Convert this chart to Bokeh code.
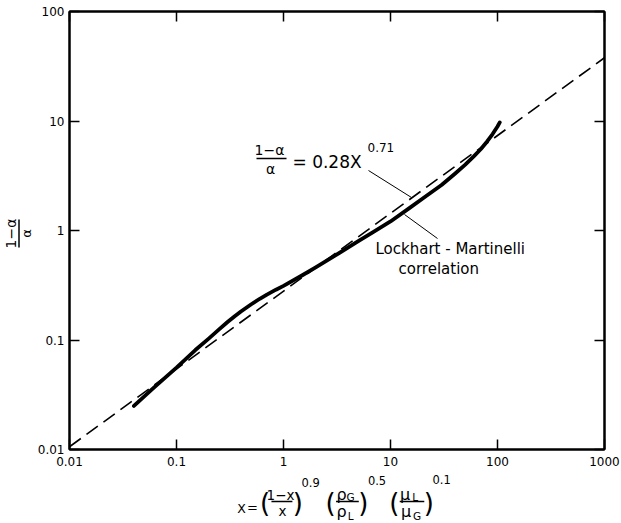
import math
from bokeh.plotting import figure
from bokeh.layouts import row, column
from bokeh.models import FixedTicker, CustomJSTickFormatter, LogAxis, Label
from bokeh.core.properties import value
from bokeh.embed import file_html
from bokeh.resources import INLINE

# ---- data ----
x_ticks = [0.01, 0.1, 1, 10, 100, 1000]
y_ticks = [0.01, 0.1, 1, 10, 100]

# Lockhart-Martinelli correlation (solid curve)
lm_x = [0.04, 0.06, 0.1, 0.15, 0.2, 0.25, 0.3, 0.35, 0.4, 0.5, 0.6, 0.7,
        0.85, 1, 1.5, 2, 3, 5, 7, 10, 15, 20, 30, 40, 50, 60, 70, 80, 90,
        100, 105]
lm_y = [0.025, 0.036, 0.056, 0.081, 0.103, 0.125, 0.146, 0.165, 0.182,
        0.212, 0.238, 0.26, 0.288, 0.312, 0.39, 0.46, 0.585, 0.80, 0.977,
        1.21, 1.6, 1.96, 2.6, 3.3, 4.0, 4.75, 5.55, 6.5, 7.6, 8.9, 9.7]

# dashed fit line (1-a)/a = 0.28 X^0.71, end points
fit_x = [0.01, 1000]
fit_y = [0.0106, 37.8]

FONT = "DejaVu Sans"

# ---------------- main plot ----------------
p = figure(x_axis_type="log", y_axis_type="log",
           x_range=(0.01, 1000), y_range=(0.01, 100),
           frame_width=535, frame_height=438,
           min_border_left=34, min_border_right=18,
           min_border_top=11, min_border_bottom=22,
           output_backend="svg", toolbar_location=None)
p.grid.visible = False
p.outline_line_color = "black"
p.outline_line_width = 2
p.background_fill_color = "white"
p.border_fill_color = "white"


def style_axis(ax, ticks, show_labels=True, standoff=6):
    ax.ticker = FixedTicker(ticks=ticks)
    ax.major_tick_in = 10
    ax.major_tick_out = 0
    ax.minor_tick_in = 0
    ax.minor_tick_out = 0
    ax.axis_line_width = 2
    ax.axis_line_color = "black"
    ax.major_tick_line_width = 1.5
    ax.major_tick_line_color = "black"
    if show_labels:
        ax.formatter = CustomJSTickFormatter(code="return String(tick)")
        ax.major_label_text_font = FONT
        ax.major_label_text_font_size = "12px"
        ax.major_label_text_color = "black"
        ax.major_label_standoff = standoff
    else:
        ax.formatter = CustomJSTickFormatter(code="return ''")
        ax.major_label_text_font_size = "0px"
        ax.major_label_standoff = 0


style_axis(p.xaxis[0], x_ticks, True, 7)
style_axis(p.yaxis[0], y_ticks, True, 5)
top = LogAxis()
style_axis(top, x_ticks, False)
p.add_layout(top, "above")
right = LogAxis()
style_axis(right, y_ticks, False)
p.add_layout(right, "right")

# curves
p.line(fit_x, fit_y, line_color="black", line_width=1.6, line_dash="14 7")
p.line(lm_x, lm_y, line_color="black", line_width=3.8, line_join="round",
       line_cap="round")


# page pixel -> data coordinate (for annotation placement inside the frame)
def dx(px):
    return 10 ** ((px - 68) / 107.0 - 2)


def dy(py):
    return 10 ** ((449 - py) / 109.5 - 2)


def lab(text, px, py, size, align="center"):
    p.add_layout(Label(x=dx(px), y=dy(py), text=text, text_font=FONT,
                       text_font_size=f"{size}px", text_align=align,
                       text_baseline="middle", text_color="black"))


# equation annotation
lab("1\u2212\u03b1", 268, 149, 14)
p.segment(x0=[dx(255)], y0=[dy(158)], x1=[dx(285)], y1=[dy(158)],
          line_color="black", line_width=1.3)
lab("\u03b1", 269, 168, 14)
lab("= 0.28X", 291, 161, 17, align="left")
lab("0.71", 366, 147, 12, align="left")
p.segment(x0=[dx(367)], y0=[dy(170)], x1=[dx(410)], y1=[dy(197)],
          line_color="black", line_width=1)

# Lockhart-Martinelli annotation
lab("Lockhart - Martinelli", 374, 248, 15, align="left")
lab("correlation", 397, 268, 15, align="left")
p.segment(x0=[dx(403)], y0=[dy(214)], x1=[dx(436)], y1=[dy(238)],
          line_color="black", line_width=1)


# ---------------- strip figures for the axis titles ----------------
def strip(w, h):
    f = figure(width=w, height=h, x_range=(0, w), y_range=(h, 0),
               min_border=0, x_axis_location=None, y_axis_location=None,
               output_backend="svg", toolbar_location=None)
    f.grid.visible = False
    f.outline_line_color = None
    f.background_fill_color = "white"
    f.border_fill_color = "white"
    return f


def txt(f, s, x, y, size, align="center", angle=0.0):
    f.text(x=[x], y=[y], text=[s], text_font=value(FONT),
           text_font_size=value(f"{size}px"), text_align=align,
           text_baseline="middle", angle=angle, text_color="black")


# y title: (1-a)/a, rotated
yl = strip(34, 523)
ang = math.pi / 2
txt(yl, "1\u2212\u03b1", 10, 233, 14, angle=ang)
yl.segment(x0=[18.5], y0=[219], x1=[18.5], y1=[247], line_color="black",
           line_width=1.5)
txt(yl, "\u03b1", 26, 233, 13, angle=ang)

# x title (page offset x=34, y=471)
xl = strip(587, 52)
OX, OY = 34, 471


def xt(s, px, py, size, align="center"):
    txt(xl, s, px - OX, py - OY, size, align=align)


def xbar(px0, px1, py):
    xl.segment(x0=[px0 - OX], y0=[py - OY], x1=[px1 - OX], y1=[py - OY],
               line_color="black", line_width=1.3)


yc = 501
xt("X", 223, yc + 7, 12.5)
xt("=", 235, yc + 6, 13)
xt("(", 249, yc + 1, 26)
xt("1\u2212x", 266, yc - 7, 13.5)
xbar(256, 279, yc)
xt("x", 268, yc + 9, 13.5)
xt(")", 285, yc + 1, 26)
xt("0.9", 289, 482, 11.5, align="left")

xt("(", 321, yc + 1, 26)
xt("\u03c1", 333, yc - 7, 16)
xt("G", 343, yc - 5, 10.5)
xbar(327, 352, yc)
xt("\u03c1", 333, yc + 10, 16)
xt("L", 343, yc + 14, 10.5)
xt(")", 357, yc + 1, 26)
xt("0.5", 362, 480, 11.5, align="left")

xt("(", 391, yc + 1, 26)
xt("\u03bc", 403, yc - 7, 16)
xt("L", 414, yc - 5, 10.5)
xbar(397, 424, yc)
xt("\u03bc", 404, yc + 10, 16)
xt("G", 416, yc + 14, 10.5)
xt(")", 429, yc + 1, 26)
xt("0.1", 433, 479, 11.5, align="left")

layout = row(yl, column(p, xl))
open("out.html", "w").write(file_html(layout, INLINE))
